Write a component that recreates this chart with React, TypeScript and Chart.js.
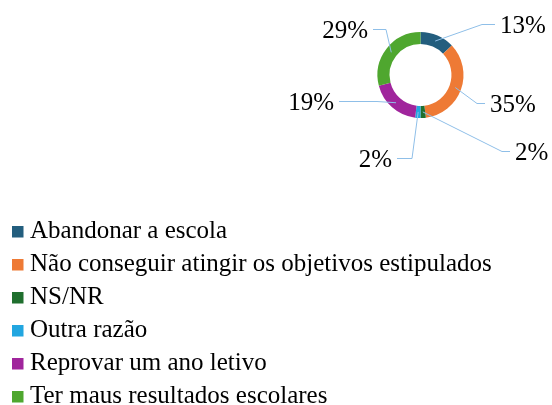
import React, { useEffect, useRef } from "react";
import { Chart, registerables } from "chart.js";

Chart.register(...registerables);

const categories = [
  "Abandonar a escola",
  "Não conseguir atingir os objetivos estipulados",
  "NS/NR",
  "Outra razão",
  "Reprovar um ano letivo",
  "Ter maus resultados escolares",
];
const values = [13, 35, 2, 2, 19, 29];
const colors = ["#235E7E", "#EE7A35", "#1F6F2E", "#22A6E0", "#A0259C", "#4FA72F"];

const FONT = '25px "Liberation Serif"';
const LINE_COLOR = "#8FBFE8";

// label placement relative to the doughnut centre (styling only)
const labelLayout = [
  { side: "right", dx: 79.5, dy: -42, elbow: 61.5 },
  { side: "right", dx: 69.5, dy: 37, elbow: 56.5 },
  { side: "right", dx: 94.5, dy: 85, elbow: 81.5 },
  { side: "left", dx: -28.5, dy: 92, elbow: -8.5 },
  { side: "left", dx: -86.5, dy: 35, elbow: -43.5 },
  { side: "left", dx: -52.5, dy: -37, elbow: -34.5 },
];

const labelPlugin = {
  id: "leaderLabels",
  afterDatasetsDraw(chart: any) {
    const meta = chart.getDatasetMeta(0);
    const ctx = chart.ctx as CanvasRenderingContext2D;
    ctx.save();
    meta.data.forEach((arc: any, i: number) => {
      const { x, y, startAngle, endAngle, innerRadius, outerRadius } = arc.getProps(
        ["x", "y", "startAngle", "endAngle", "innerRadius", "outerRadius"],
        true
      );
      const mid = (startAngle + endAngle) / 2;
      const r = (innerRadius + outerRadius) / 2;
      const ax = x + Math.cos(mid) * r;
      const ay = y + Math.sin(mid) * r;
      const L = labelLayout[i];
      const midY = y + L.dy - 8.5;
      const ex = x + L.elbow;
      const tx = x + L.dx;
      const endX = L.side === "right" ? tx - 5 : tx + 5;
      ctx.strokeStyle = LINE_COLOR;
      ctx.lineWidth = 1;
      ctx.beginPath();
      ctx.moveTo(ax, ay);
      ctx.lineTo(ex, midY);
      ctx.lineTo(endX, midY);
      ctx.stroke();
      ctx.fillStyle = "#000";
      ctx.font = FONT;
      ctx.textAlign = L.side === "right" ? "left" : "right";
      ctx.textBaseline = "alphabetic";
      ctx.fillText(`${values[i]}%`, tx, y + L.dy);
    });

    // legend (vertical list, bottom-left)
    categories.forEach((name, i) => {
      const base = 238 + 33 * i;
      ctx.fillStyle = colors[i];
      ctx.fillRect(12, base - 12, 11.5, 11.5);
      ctx.fillStyle = "#000";
      ctx.font = FONT;
      ctx.textAlign = "left";
      ctx.textBaseline = "alphabetic";
      ctx.fillText(name, 30, base);
    });
    ctx.restore();
  },
};

export default function App() {
  const ref = useRef<HTMLCanvasElement | null>(null);
  useEffect(() => {
    document.body.style.margin = "0";
    const canvas = ref.current;
    if (!canvas) return;
    const chart = new Chart(canvas, {
      type: "doughnut",
      data: {
        labels: categories,
        datasets: [
          {
            data: values,
            backgroundColor: colors,
            borderWidth: 0,
          },
        ],
      },
      options: {
        responsive: false,
        animation: false,
        cutout: "72%",
        layout: { padding: { left: 377.5, right: 88.5, top: 32, bottom: 287 } },
        plugins: {
          legend: { display: false },
          tooltip: { enabled: false },
        },
      },
      plugins: [labelPlugin],
    });
    let alive = true;
    if ((document as any).fonts && (document as any).fonts.load) {
      (document as any).fonts.load(FONT).then(() => {
        if (alive) chart.update();
      });
    }
    return () => {
      alive = false;
      chart.destroy();
    };
  }, []);
  return (
    <div style={{ width: 552, height: 405, background: "#fff", fontFamily: '"Liberation Serif"' }}>
      <canvas ref={ref} width={552} height={405} />
    </div>
  );
}
